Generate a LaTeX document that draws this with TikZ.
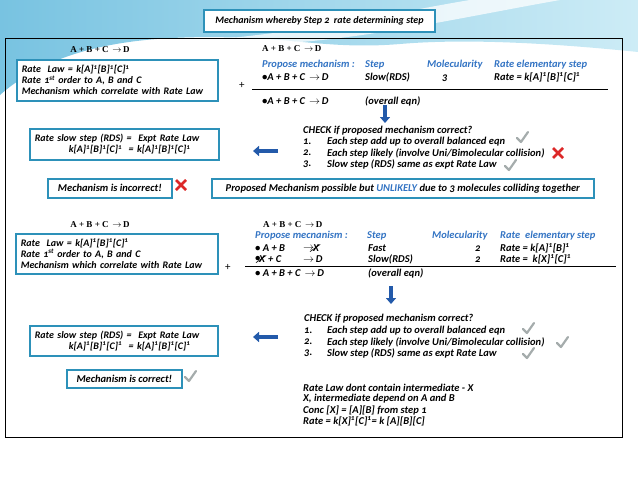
\documentclass[tikz,border=0pt]{standalone}
\usepackage{fontspec}
\setmainfont{Carlito}[Numbers=OldStyle]
\newfontfamily\eqserif{Liberation Serif}
\usetikzlibrary{arrows.meta}

\newcommand\sone{\textsuperscript{1}}
\newcommand\yields{\,$\rightarrow$\,}

\begin{document}
\begin{tikzpicture}[x=1pt,y=-1pt,
  font=\bfseries\itshape\fontsize{10.5}{11.5}\selectfont,
  txt/.style={anchor=west,inner sep=0pt},
  hd/.style={txt,text=headblue},
  eqn/.style={inner sep=0pt,font=\eqserif\bfseries\fontsize{9}{10}\selectfont},
  infobox/.style={draw=boxblue,line width=1.6pt,fill=white,anchor=north west,
    inner xsep=5pt,inner ysep=2pt,align=left,font=\bfseries\itshape\fontsize{10}{11}\selectfont},
  bigbox/.style={infobox,font=\bfseries\itshape\fontsize{10.5}{11.5}\selectfont},
  tick/.style={draw=tickgray,line width=2.2pt,line cap=round,line join=round},
  wrong/.style={draw=crossred,line width=2.6pt},
  blockarrow/.style={draw=arrowblue,line width=4.5pt,-{Triangle[length=6pt,width=10pt]}}]

% Colors
\definecolor{swooshA}{RGB}{120,195,225}
\definecolor{swooshB}{RGB}{205,236,246}
\definecolor{boxblue}{RGB}{45,145,185}
\definecolor{headblue}{RGB}{50,115,195}
\definecolor{arrowblue}{RGB}{35,90,170}
\definecolor{tickgray}{RGB}{165,172,172}
\definecolor{crossred}{RGB}{220,40,40}

\useasboundingbox (0,0) rectangle (638,479);

% Background
\shade[left color=swooshA,right color=swooshB] (0,0) -- (638,0) -- (638,52)
  .. controls (560,44) and (470,38) .. (400,44)
  .. controls (340,49) and (300,40) .. (250,38)
  .. controls (150,34) and (60,42) .. (0,95) -- cycle;
\fill[white,opacity=0.75] (230,38) .. controls (330,28) and (420,8) .. (470,0)
  -- (560,0) .. controls (480,14) and (380,36) .. (300,42) -- cycle;

% Title
\node[draw=boxblue,line width=1.6pt,fill=white,minimum width=231pt,minimum height=22pt,
  font=\bfseries\itshape\fontsize{10}{11}\selectfont] (title) at (319.5,21)
  {Mechanism whereby Step 2~ rate determining step};

% Frame
\draw[line width=0.8pt] (5,38) rectangle (622,437);

% ---- Step 1 mechanism (three molecules) ----
\node[eqn] (eqL1) at (100,50) {A + B + C \yields D};
\node[infobox,text width=191pt,minimum height=41pt] (law1) at (16,59)
  {Rate~ Law = k[A]\sone[B]\sone[C]\sone\\
   Rate 1\textsuperscript{st} order to A, B and C\\
   Mechanism which correlate with Rate Law};
\node[txt,font=\fontsize{11}{11}\selectfont] (plus1) at (239,85) {+};

\node[eqn,anchor=west] (eqR1) at (262,49) {A + B + C \yields D};
\node[hd] (prop1) at (262,65) {Propose mechanism :};
\node[hd] (step1) at (365,65) {Step};
\node[hd] (mol1) at (427,65) {Molecularity};
\node[hd] (rate1) at (494,65) {Rate elementary step};
\node[txt] (r1a) at (262,77) {\textbullet A + B + C \yields D};
\node[txt] (r1b) at (365,77) {Slow(RDS)};
\node[txt] (r1c) at (442,78) {3};
\node[txt] (r1d) at (494,77) {Rate = k[A]\sone[B]\sone[C]\sone};
\draw[line width=0.8pt] (252,89) -- (608,89);
\node[txt] (ov1a) at (262,101) {\textbullet A + B + C \yields D};
\node[txt] (ov1b) at (365,101) {(overall eqn)};

\coordinate (down1s) at (385,105);
\coordinate (down1e) at (385,123);
\draw[blockarrow] (down1s) -- (down1e);

\node[txt] (chk1) at (303,131) {CHECK if proposed mechanism correct?};
\node[txt] (n11) at (303,142) {1.};
\node[txt] (c11) at (327,142) {Each step add up to overall balanced eqn};
\node[txt] (n12) at (303,153) {2.};
\node[txt] (c12) at (327,153) {Each step likely (involve Uni/Bimolecular collision)};
\node[txt] (n13) at (303,164) {3.};
\node[txt] (c13) at (327,164) {Slow step (RDS) same as expt Rate Law};

\node[infobox,text width=179pt,minimum height=31pt] (rds1) at (29,128)
  {Rate slow step (RDS) =~ Expt Rate Law\\
   \hspace*{34pt}k[A]\sone[B]\sone[C]\sone\ \ = k[A]\sone[B]\sone[C]\sone};
\coordinate (left1s) at (278,151);
\coordinate (left1e) at (253,151);
\draw[blockarrow] (left1s) -- (left1e);

\node[bigbox,minimum width=124pt,minimum height=19pt] (wrong1) at (47,178)
  {Mechanism is incorrect!};
\node[bigbox,minimum width=382pt,minimum height=19pt] (unlikely) at (211,178)
  {Proposed Mechanism possible but \textcolor{headblue}{UNLIKELY} due to 3 molecules colliding together};

% ---- Step 2 mechanism (intermediate X) ----
\node[eqn] (eqL2) at (100,225) {A + B + C \yields D};
\node[infobox,text width=192pt,minimum height=40pt] (law2) at (15,233)
  {Rate~ Law = k[A]\sone[B]\sone[C]\sone\\
   Rate 1\textsuperscript{st} order to A, B and C\\
   Mechanism which correlate with Rate Law};
\node[txt,font=\fontsize{11}{11}\selectfont] (plus2) at (225,267) {+};

\node[eqn,anchor=west] (eqR2) at (263,225) {A + B + C \yields D};
\node[hd] (prop2) at (255,236) {Propose mecnanism :};
\node[hd] (step2) at (367,236) {Step};
\node[hd] (mol2) at (432,236) {Molecularity};
\node[hd] (rate2) at (500,236) {Rate~ elementary step};
\node[txt] (r2a) at (255,248) {\textbullet{} A + B};
\node[txt] (r2arr) at (303,248) {$\rightarrow$};
\node[txt] (r2x) at (313,248) {X};
\draw[line width=0.6pt] ([xshift=-3pt]r2x.south west) -- ([xshift=1pt]r2x.north east);
\node[txt] (r2b) at (368,248) {Fast};
\node[txt] (r2c) at (475,249) {2};
\node[txt] (r2d) at (500,248) {Rate = k[A]\sone[B]\sone};
\node[txt] (r3bul) at (255,259) {\textbullet};
\node[txt] (r3x) at (259,259) {X};
\draw[line width=0.6pt] ([xshift=-3pt]r3x.south west) -- ([xshift=1pt]r3x.north east);
\node[txt] (r3a) at (268,259) {+ C};
\node[txt] (r3arr) at (303,259) {$\rightarrow$\,D};
\node[txt] (r3b) at (368,259) {Slow(RDS)};
\node[txt] (r3c) at (475,260) {2};
\node[txt] (r3d) at (500,259) {Rate =~ k[X]\sone[C]\sone};
\draw[line width=0.8pt] (245,266) -- (616,266);
\node[txt] (ov2a) at (255,273) {\textbullet{} A + B + C \yields D};
\node[txt] (ov2b) at (368,273) {(overall eqn)};

\coordinate (down2s) at (391,286);
\coordinate (down2e) at (391,304);
\draw[blockarrow] (down2s) -- (down2e);

\node[txt] (chk2) at (304,319) {CHECK if proposed mechanism correct?};
\node[txt] (n21) at (304,331) {1.};
\node[txt] (c21) at (327,331) {Each step add up to overall balanced eqn};
\node[txt] (n22) at (304,342) {2.};
\node[txt] (c22) at (327,342) {Each step likely (involve Uni/Bimolecular collision)};
\node[txt] (n23) at (304,353) {3.};
\node[txt] (c23) at (327,353) {Slow step (RDS) same as expt Rate Law};

\node[infobox,text width=178pt,minimum height=30pt] (rds2) at (29,325)
  {Rate slow step (RDS) =~ Expt Rate Law\\
   \hspace*{34pt}k[A]\sone[B]\sone[C]\sone\ \ = k[A]\sone[B]\sone[C]\sone};
\coordinate (left2s) at (278,337);
\coordinate (left2e) at (253,337);
\draw[blockarrow] (left2s) -- (left2e);

\node[bigbox,minimum width=115pt,minimum height=18pt] (right2) at (66,369)
  {Mechanism is correct!};

\node[txt] (int1) at (303,388) {Rate Law dont contain intermediate - X};
\node[txt] (int2) at (303,399) {X, intermediate depend on A and B};
\node[txt] (int3) at (303,410) {Conc [X] = [A][B] from step 1};
\node[txt] (int4) at (303,421) {Rate = k[X]\sone[C]\sone = k [A][B][C]};

% Ticks and crosses
\foreach \cx/\cy in {522/138, 510/166, 528/329, 562/343, 528/354, 190/377} {
  \draw[tick] (\cx-5,\cy) -- (\cx-1,\cy+4) -- (\cx+6,\cy-6);
}
\foreach \cx/\cy in {558/153, 181/185} {
  \draw[wrong] (\cx-5,\cy-5) -- (\cx+5,\cy+5);
  \draw[wrong] (\cx-5,\cy+5) -- (\cx+5,\cy-5);
}

\end{tikzpicture}
\end{document}
